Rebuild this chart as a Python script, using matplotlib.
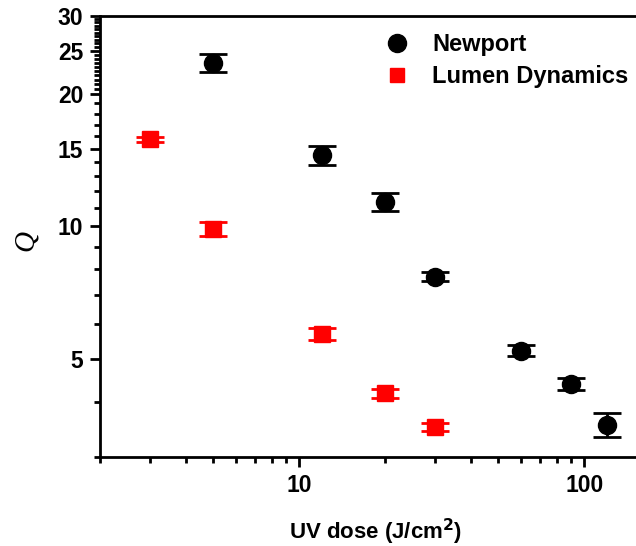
import numpy as np
import matplotlib
matplotlib.use("Agg")
import matplotlib.pyplot as plt
from matplotlib.lines import Line2D
from matplotlib.ticker import FixedLocator, NullFormatter

plt.rcParams['font.family'] = ['Liberation Sans', 'DejaVu Sans']
plt.rcParams['font.weight'] = 'bold'

# Newport lamp: quality factor vs UV dose
dose_newport = [5, 12, 20, 30, 60, 90, 120]
q_newport = [23.5, 14.5, 11.36, 7.69, 5.23, 4.39, 3.55]
err_newport = [1.1, 0.7, 0.53, 0.18, 0.15, 0.13, 0.22]

# Lumen Dynamics lamp
dose_lumen = [3, 5, 12, 20, 30]
q_lumen = [15.76, 9.85, 5.70, 4.18, 3.51]
err_lumen = [0.2, 0.36, 0.18, 0.1, 0.08]

x_major = [10, 100]
y_major = [5, 10, 15, 20, 25, 30]

fig = plt.figure(figsize=(6.36, 5.46), dpi=100)
# axes runs past the right edge of the figure on purpose
ax = fig.add_axes([100 / 636, 1 - 457 / 546, 570 / 636, 441 / 546])

ax.errorbar(dose_newport, q_newport, yerr=err_newport, fmt='o', ms=13,
            color='black', ecolor='black', elinewidth=2, capsize=10, capthick=2)
ax.errorbar(dose_lumen, q_lumen, yerr=err_lumen, fmt='s', ms=11,
            color='red', ecolor='red', elinewidth=2, capsize=10, capthick=2)

ax.set_xscale('log')
ax.set_yscale('log')
ax.set_xlim(2, 200)
ax.set_ylim(3, 30)

# ticks
x_minor = list(range(2, 10)) + list(range(20, 100, 10)) + [200]
y_minor = [v for v in list(range(3, 20)) + list(np.arange(20, 30, 0.5)) if v not in y_major]
ax.xaxis.set_major_locator(FixedLocator(x_major))
ax.xaxis.set_minor_locator(FixedLocator(x_minor))
ax.yaxis.set_major_locator(FixedLocator(y_major))
ax.yaxis.set_minor_locator(FixedLocator(y_minor))
ax.set_xticklabels([str(v) for v in x_major])
ax.set_yticklabels([str(v) for v in y_major])
ax.xaxis.set_minor_formatter(NullFormatter())
ax.yaxis.set_minor_formatter(NullFormatter())

ax.tick_params(which='major', direction='out', length=7, width=2, labelsize=16.5, pad=5)
ax.tick_params(which='minor', direction='out', length=4, width=2)
ax.tick_params(top=False, right=False)

for side in ['left', 'bottom', 'top']:
    ax.spines[side].set_linewidth(2)
ax.spines['right'].set_visible(False)

ax.set_xlabel('UV dose (J/cm$^\\mathbf{2}$)', fontsize=16, fontweight='bold')
ax.xaxis.set_label_coords(0.484, -0.136)
ax.xaxis.label.set_va('top')

ax.set_ylabel('Q', fontsize=21, fontweight='normal', fontstyle='italic',
              family=['Liberation Serif', 'DejaVu Serif'])
ax.yaxis.set_label_coords(-0.108, 0.49)

handles = [
    Line2D([], [], marker='o', ls='none', color='black', ms=13),
    Line2D([], [], marker='s', ls='none', color='red', ms=10.5),
]
fig.legend(handles, ['Newport', 'Lumen Dynamics'], loc='upper left',
           bbox_to_anchor=(383 / 636, 1 - 33 / 546), frameon=False,
           fontsize=17, handlelength=1.2, handletextpad=0.88,
           labelspacing=0.38, borderpad=0, borderaxespad=0)

fig.savefig('out.png', dpi=100)
